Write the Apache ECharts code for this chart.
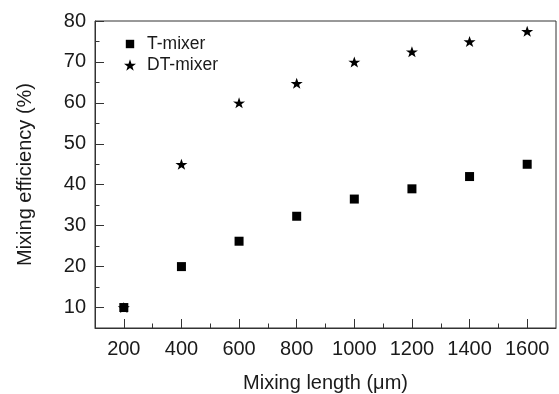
<!DOCTYPE html>
<html>
<head>
<meta charset="utf-8">
<script src="https://cdn.jsdelivr.net/npm/echarts@6/dist/echarts.min.js"></script>
<style>
  html, body { margin: 0; padding: 0; background: #fff; }
  #chart { width: 559px; height: 394px; }
</style>
</head>
<body>
<div id="chart"></div>
<script>
// mixing length (um)
const lengths = [200, 400, 600, 800, 1000, 1200, 1400, 1600]
const tMixer = [10, 20, 26.2, 32.3, 36.5, 39, 42, 45]
const dtMixer = [10, 45, 60, 64.8, 70, 72.5, 75, 77.5]

const xMajor = [200, 400, 600, 800, 1000, 1200, 1400, 1600]
const xMinor = [300, 500, 700, 900, 1100, 1300, 1500]
const yMajor = [10, 20, 30, 40, 50, 60, 70, 80]
const yMinor = [5, 15, 25, 35, 45, 55, 65, 75]

const STAR = 'path://M50,0 L61.8,35.1 L97.6,34.5 L69,56.9 L79.4,90.5 L50,70 L20.6,90.5 L31,56.9 L2.4,34.5 L38.2,35.1 Z'
// square with some empty room round it, so the legend icon comes out smaller than the star
const SMALL_SQUARE = 'path://M0,0 M100,100 M15,15 L85,15 L85,85 L15,85 Z'
const font = 'Liberation Sans, Arial, sans-serif'
const ink = '#1a1a1a'

const chart = echarts.init(document.getElementById('chart'))

const xBase = {
  type: 'value',
  min: 100,
  max: 1700,
  splitLine: { show: false },
}
const yBase = {
  type: 'value',
  min: 5,
  max: 80,
  splitLine: { show: false },
}

const option = {
  animation: false,
  backgroundColor: '#fff',
  textStyle: { fontFamily: font, color: ink },
  grid: {
    left: 95,
    right: 3,
    top: 21,
    bottom: 66,
    outerBoundsMode: 'none',
    show: true,
    borderColor: '#333',
    borderWidth: 1,
  },
  legend: {
    orient: 'vertical',
    left: 119,
    top: 30,
    itemWidth: 12,
    itemHeight: 12,
    itemGap: 3,
    textStyle: { fontSize: 17.5, color: ink, fontFamily: font, padding: [0, 0, 0, 6] },
    data: [
      { name: 'T-mixer', icon: SMALL_SQUARE, itemStyle: { color: '#000' } },
      { name: 'DT-mixer', icon: STAR, itemStyle: { color: '#000' } },
    ],
  },
  xAxis: [
    {
      ...xBase,
      name: 'Mixing length (μm)',
      nameLocation: 'middle',
      nameGap: 45,
      nameTextStyle: { fontSize: 20, color: ink, fontFamily: font },
      axisLine: { lineStyle: { color: '#333', width: 1 } },
      axisTick: { inside: true, length: 9, customValues: xMajor, lineStyle: { color: '#333' } },
      axisLabel: { customValues: xMajor, fontSize: 20, color: ink, margin: 11, formatter: (v) => String(v) },
    },
    {
      ...xBase,
      position: 'bottom',
      axisLine: { show: false },
      axisTick: { inside: true, length: 4.5, customValues: xMinor, lineStyle: { color: '#333' } },
      axisLabel: { show: false },
    },
  ],
  yAxis: [
    {
      ...yBase,
      name: 'Mixing efficiency (%)',
      nameLocation: 'middle',
      nameGap: 60,
      nameTextStyle: { fontSize: 20, color: ink, fontFamily: font },
      axisLine: { show: true, lineStyle: { color: '#333', width: 1 } },
      axisTick: { show: true, inside: true, length: 9, customValues: yMajor, lineStyle: { color: '#333' } },
      axisLabel: { customValues: yMajor, fontSize: 20, color: ink, margin: 9, formatter: (v) => String(v) },
    },
    {
      ...yBase,
      position: 'left',
      axisLine: { show: false },
      axisTick: { show: true, inside: true, length: 4.5, customValues: yMinor, lineStyle: { color: '#333' } },
      axisLabel: { show: false },
    },
  ],
  series: [
    {
      name: 'T-mixer',
      type: 'scatter',
      symbol: 'rect',
      symbolSize: 9,
      itemStyle: { color: '#000', opacity: 1 },
      data: lengths.map((x, i) => [x, tMixer[i]]),
    },
    {
      name: 'DT-mixer',
      type: 'scatter',
      symbol: STAR,
      symbolSize: [12, 11],
      itemStyle: { color: '#000', opacity: 1 },
      data: lengths.map((x, i) => [x, dtMixer[i]]),
    },
  ],
}

chart.setOption(option)
</script>
</body>
</html>
